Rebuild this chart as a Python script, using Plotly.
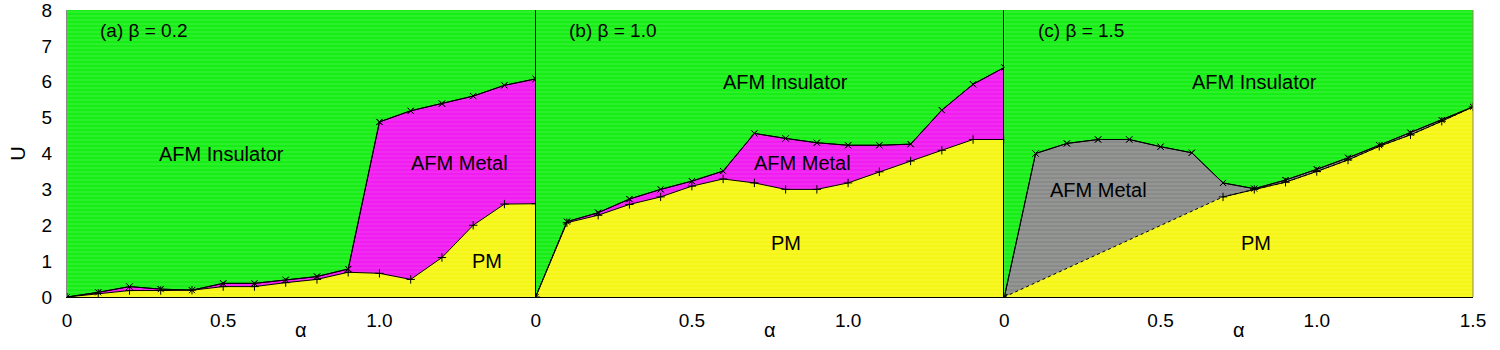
import plotly.graph_objects as go

alpha = [0.0, 0.1, 0.2, 0.3, 0.4, 0.5, 0.6, 0.7, 0.8, 0.9, 1.0, 1.1, 1.2, 1.3, 1.4, 1.5]

# Panel (a) beta = 0.2
a_upper = [0.0, 0.13, 0.29, 0.22, 0.19, 0.38, 0.38, 0.48, 0.57, 0.78, 4.88, 5.19, 5.39, 5.60, 5.90, 6.08]
a_lower = [0.0, 0.10, 0.18, 0.18, 0.19, 0.29, 0.29, 0.40, 0.49, 0.69, 0.66, 0.49, 1.10, 2.00, 2.59, 2.60]

# Panel (b) beta = 1.0
b_upper = [0.0, 2.10, 2.35, 2.73, 3.00, 3.23, 3.51, 4.56, 4.42, 4.30, 4.23, 4.23, 4.26, 5.21, 5.93, 6.40]
b_lower = [0.0, 2.07, 2.28, 2.58, 2.79, 3.09, 3.29, 3.18, 3.00, 3.00, 3.18, 3.49, 3.79, 4.09, 4.39, 4.39]

# Panel (c) beta = 1.5
c_upper = [0.0, 4.00, 4.28, 4.39, 4.39, 4.19, 4.02, 3.18, 3.02, 3.26, 3.56, 3.88, 4.23, 4.58, 4.93, 5.30]
c_lower = [0.0, 0.40, 0.80, 1.20, 1.60, 2.00, 2.40, 2.79, 3.00, 3.20, 3.50, 3.82, 4.20, 4.52, 4.90, 5.30]
c_lower_marked_from = 7  # index where PM boundary points are computed

panel_titles = ["(a) β = 0.2", "(b) β = 1.0", "(c) β = 1.5"]
metal_colors = ["#f01cf0", "#f01cf0", "#8a8a8a"]
GREEN = "#16ee16"
YELLOW = "#f6f614"

x_tickvals = [[0, 0.5, 1.0], [0, 0.5, 1.0], [0, 0.5, 1.0, 1.5]]
x_ticktext = [["0", "0.5", "1.0"], ["0", "0.5", "1.0"], ["0", "0.5", "1.0", "1.5"]]
y_ticks = [0, 1, 2, 3, 4, 5, 6, 7, 8]

labels = [
    [("AFM Insulator", 0.495, 4.0), ("AFM Metal", 1.256, 3.73), ("PM", 1.345, 1.0)],
    [("AFM Insulator", 0.80, 5.99), ("AFM Metal", 0.853, 3.73), ("PM", 0.80, 1.5)],
    [("AFM Insulator", 0.80, 6.0), ("AFM Metal", 0.30, 2.98), ("PM", 0.805, 1.5)],
]

FONT = "Liberation Sans, Arial, sans-serif"

fig = go.Figure()
uppers = [a_upper, b_upper, c_upper]
lowers = [a_lower, b_lower, c_lower]

for i in range(3):
    xa = "x" if i == 0 else f"x{i+1}"
    ya = "y" if i == 0 else f"y{i+1}"
    ymax = [8] * len(alpha)
    # green insulator region (from 0 up to 8)
    fig.add_trace(go.Scatter(x=alpha, y=ymax, xaxis=xa, yaxis=ya, mode="lines",
                             line=dict(width=0), fill="tozeroy", fillcolor=GREEN,
                             fillpattern=dict(shape="-", fgcolor="#6ef56e", bgcolor=GREEN,
                                              size=4, solidity=0.25),
                             showlegend=False, hoverinfo="skip"))
    # metal region
    fig.add_trace(go.Scatter(x=alpha, y=uppers[i], xaxis=xa, yaxis=ya, mode="lines+markers",
                             line=dict(color="black", width=1), fill="tozeroy",
                             fillcolor=metal_colors[i],
                             fillpattern=dict(shape="-", fgcolor="#b8c8b8" if i == 2 else "#f86cf8",
                                              bgcolor=metal_colors[i], size=4, solidity=0.2),
                             marker=dict(symbol="x-thin-open", size=6, color="black",
                                         line=dict(color="black", width=1)),
                             showlegend=False, hoverinfo="skip"))
    # PM region
    if i < 2:
        fig.add_trace(go.Scatter(x=alpha, y=lowers[i], xaxis=xa, yaxis=ya, mode="lines+markers",
                                 line=dict(color="black", width=1), fill="tozeroy",
                                 fillcolor=YELLOW,
                                 fillpattern=dict(shape="-", fgcolor="#f8f880", bgcolor=YELLOW,
                                                  size=4, solidity=0.2),
                                 marker=dict(symbol="cross-thin-open", size=6, color="black",
                                             line=dict(color="black", width=1)),
                                 showlegend=False, hoverinfo="skip"))
    else:
        fig.add_trace(go.Scatter(x=alpha, y=lowers[i], xaxis=xa, yaxis=ya, mode="lines",
                                 line=dict(color="black", width=1, dash="dot"), fill="tozeroy",
                                 fillcolor=YELLOW,
                                 fillpattern=dict(shape="-", fgcolor="#f8f880", bgcolor=YELLOW,
                                                  size=4, solidity=0.2),
                                 showlegend=False, hoverinfo="skip"))
        k = c_lower_marked_from
        fig.add_trace(go.Scatter(x=alpha[k:], y=lowers[i][k:], xaxis=xa, yaxis=ya,
                                 mode="lines+markers", line=dict(color="black", width=1),
                                 marker=dict(symbol="cross-thin-open", size=6, color="black",
                                             line=dict(color="black", width=1)),
                                 showlegend=False, hoverinfo="skip"))
    # upper line redrawn on top
    fig.add_trace(go.Scatter(x=alpha, y=uppers[i], xaxis=xa, yaxis=ya, mode="lines+markers",
                             line=dict(color="black", width=1),
                             marker=dict(symbol="x-thin-open", size=6, color="black",
                                         line=dict(color="black", width=1)),
                             showlegend=False, hoverinfo="skip"))
    # panel title
    fig.add_annotation(x=0.1, y=7.44, xref=xa, yref=ya, text=panel_titles[i], showarrow=False,
                       xanchor="left", yanchor="middle", font=dict(size=19, color="black", family=FONT))
    for (txt, lx, ly) in labels[i]:
        fig.add_annotation(x=lx, y=ly, xref=xa, yref=ya, text=txt, showarrow=False,
                           xanchor="center", yanchor="middle",
                           font=dict(size=20, color="black", family=FONT))

domains = [[0, 1/3], [1/3, 2/3], [2/3, 1]]
for i in range(3):
    key = "xaxis" if i == 0 else f"xaxis{i+1}"
    ykey = "yaxis" if i == 0 else f"yaxis{i+1}"
    fig.layout[key] = dict(domain=domains[i], range=[0, 1.5], anchor="y" if i == 0 else f"y{i+1}",
                           tickvals=x_tickvals[i], ticktext=x_ticktext[i], ticks="",
                           showgrid=False, zeroline=False, showline=True, linecolor="black",
                           linewidth=1, ticklabelstandoff=6, automargin=False,
                           tickfont=dict(size=19, color="black", family=FONT))
    # axis title alpha placed under each panel
    fig.add_annotation(x=(domains[i][0] + domains[i][1]) / 2, y=-0.115, xref="paper", yref="paper",
                       text="α", showarrow=False, xanchor="center", yanchor="middle",
                       font=dict(size=20, color="black", family=FONT))
    ycfg = dict(range=[0, 8], anchor="x" if i == 0 else f"x{i+1}", showgrid=False,
                zeroline=False, showline=True, linewidth=1, ticks="", automargin=False)
    if i == 0:
        ycfg.update(tickvals=y_ticks, linecolor="#888888", ticklabelstandoff=10,
                    ticklabeloverflow="allow",
                    tickfont=dict(size=19, color="black", family=FONT),
                    title=dict(text="U", font=dict(size=20, color="black", family=FONT), standoff=10))
    else:
        ycfg.update(showticklabels=False, linecolor="black")
    fig.layout[ykey] = ycfg

fig.add_shape(type="line", xref="paper", yref="paper", x0=1, x1=1, y0=0, y1=1,
              line=dict(color="#8a8a50", width=1))

fig.update_layout(width=1500, height=350, margin=dict(l=67, r=27, t=10, b=53),
                  paper_bgcolor="white", plot_bgcolor=GREEN,
                  font=dict(family=FONT, color="black"))

fig.write_html("out.html", config={"displayModeBar": False, "staticPlot": True},
               post_script="document.body.style.margin='0';document.body.style.overflow='hidden';")
